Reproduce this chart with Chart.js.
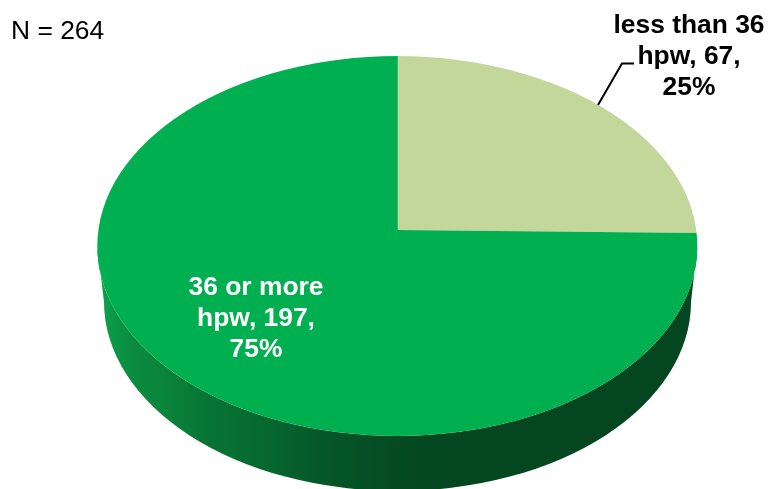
<!DOCTYPE html>
<html>
<head>
<meta charset="utf-8">
<script src="https://cdn.jsdelivr.net/npm/chart.js@4"></script>
<style>html,body{margin:0;padding:0;background:#fff}canvas{display:block}</style>
</head>
<body>
<canvas id="c" width="769" height="489"></canvas>
<script>
const categories = ["less than 36 hpw", "36 or more hpw"];
const hours = [67, 197];
const sliceColors = ["#C4D79B", "#00B050"];
const percents = ["25%", "75%"];
const sampleNote = "N = 264";

const topFace = {cx: 397.3, cy: 246, rx: 300, ry: 190};
const baseFace = {cx: 397.5, cy: 302, rx: 293.5, ry: 189};
const apex = {x: 397.8, y: 230};
const wallStops = [[97,"#0BA54B"],[130,"#0A8C40"],[165,"#0A843C"],[215,"#077233"],[260,"#066A30"],[320,"#05572A"],[400,"#044A22"],[450,"#034620"],[697,"#034620"]];
const FONT = '"Liberation Sans", Arial, sans-serif';

const pie3d = {
  id: "pie3d",
  beforeDatasetDraw(chart, args) {
    const ctx = chart.ctx, meta = args.meta, el = meta.data[0];
    const R = el.outerRadius, px = el.x, py = el.y;
    // side wall
    ctx.save();
    const g = ctx.createLinearGradient(97, 0, 697, 0);
    wallStops.forEach(s => g.addColorStop((s[0] - 97) / 600, s[1]));
    ctx.fillStyle = g;
    ctx.beginPath();
    ctx.ellipse(topFace.cx, topFace.cy, topFace.rx, topFace.ry, 0, Math.PI, 0, true);
    ctx.lineTo(baseFace.cx + baseFace.rx, baseFace.cy);
    ctx.ellipse(baseFace.cx, baseFace.cy, baseFace.rx, baseFace.ry, 0, 0, Math.PI, false);
    ctx.closePath();
    ctx.fill();
    ctx.restore();
    // top face: library arcs, seen in perspective
    ctx.save();
    ctx.beginPath();
    ctx.ellipse(topFace.cx, topFace.cy, topFace.rx, topFace.ry, 0, 0, Math.PI * 2);
    ctx.clip();
    ctx.translate(apex.x, apex.y);
    ctx.scale(550 / R, 231 / R);
    ctx.translate(-px, -py);
    meta.controller.draw();
    ctx.restore();
    return false;
  },
  afterDraw(chart) {
    const ctx = chart.ctx;
    ctx.save();
    ctx.strokeStyle = "#000";
    ctx.lineWidth = 2;
    ctx.beginPath();
    ctx.moveTo(598, 105);
    ctx.lineTo(622, 63.5);
    ctx.lineTo(634, 63.5);
    ctx.stroke();
    ctx.textBaseline = "alphabetic";
    ctx.textAlign = "center";
    ctx.font = "bold 26.4px " + FONT;
    ctx.fillStyle = "#000";
    const lessLines = ["less than 36", "hpw, " + hours[0] + ",", percents[0]];
    lessLines.forEach((t, i) => ctx.fillText(t, 689, 32.5 + i * 31));
    ctx.fillStyle = "#fff";
    const moreLines = ["36 or more", "hpw, " + hours[1] + ",", percents[1]];
    moreLines.forEach((t, i) => ctx.fillText(t, 256, 295 + i * 31));
    ctx.textAlign = "left";
    ctx.fillStyle = "#000";
    ctx.font = "26.4px " + FONT;
    ctx.fillText(sampleNote, 11, 39);
    ctx.restore();
  }
};

new Chart(document.getElementById("c"), {
  type: "pie",
  data: {
    labels: categories,
    datasets: [{data: hours, backgroundColor: sliceColors, borderWidth: 0}]
  },
  options: {
    responsive: false,
    animation: false,
    plugins: {legend: {display: false}, tooltip: {enabled: false}, title: {display: false}}
  },
  plugins: [pie3d]
});
</script>
</body>
</html>
